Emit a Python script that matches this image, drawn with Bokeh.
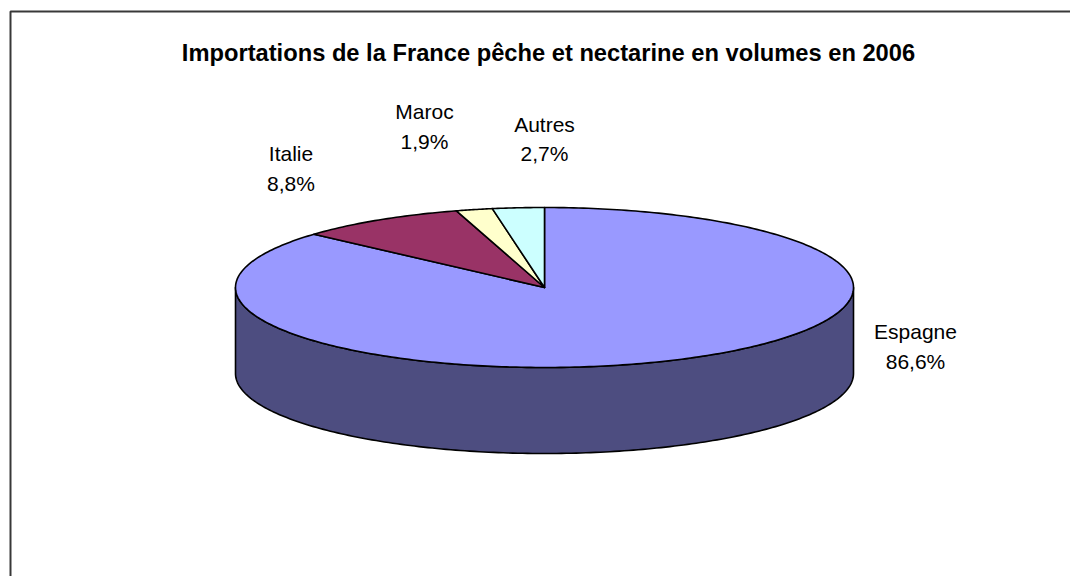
import numpy as np
from bokeh.plotting import figure
from bokeh.models import Range1d
from bokeh.embed import file_html
from bokeh.resources import INLINE
from bokeh.core.properties import value

# ---------------- data ----------------
countries = ["Espagne", "Italie", "Maroc", "Autres"]
shares = [86.6, 8.8, 1.9, 2.7]
top_colors = ["#9999FF", "#993366", "#FFFFCC", "#CCFFFF"]
side_colors = ["#4D4D80", "#4D1A33", "#808066", "#668080"]
title_text = "Importations de la France pêche et nectarine en volumes en 2006"

# ---------------- layout ----------------
W, H = 1070, 576
CX, CY, RX, RY, DEPTH = 544, 287, 309, 80, 86
label_anchor = {  # (center x, first-line baseline y) in canvas px
    "Espagne": (915, 331),
    "Italie": (290.5, 153),
    "Maroc": (424, 111),
    "Autres": (544, 123.5),
}
LINE_GAP = 29.5
FONT = value("Liberation Sans")

p = figure(width=W, height=H, x_range=Range1d(0, W), y_range=Range1d(H, 0),
           output_backend="svg", toolbar_location=None, min_border=0,
           x_axis_type=None, y_axis_type=None, background_fill_color="white",
           border_fill_color="white")
p.outline_line_color = None
p.grid.visible = False


def pt(t):
    return CX + RX * np.sin(t), CY - RY * np.cos(t)


cum = np.concatenate([[0.0], np.cumsum(shares)]) / sum(shares) * 2 * np.pi

# side walls (front half only: clock angles pi/2 .. 3pi/2)
side_xs, side_ys, side_cols = [], [], []
for i in range(len(shares)):
    a0 = max(cum[i], np.pi / 2)
    a1 = min(cum[i + 1], 3 * np.pi / 2)
    if a1 <= a0:
        continue
    t = np.linspace(a0, a1, 200)
    x, y = pt(t)
    xs = np.concatenate([x, x[::-1]])
    ys = np.concatenate([y, (y + DEPTH)[::-1]])
    side_xs.append(list(xs))
    side_ys.append(list(ys))
    side_cols.append(side_colors[i])
p.patches(xs=side_xs, ys=side_ys, fill_color=side_cols, line_color="black",
          line_width=1.6, line_join="round")

# top faces
top_xs, top_ys = [], []
for i in range(len(shares)):
    n = max(20, int(400 * shares[i] / 100))
    t = np.linspace(cum[i], cum[i + 1], n)
    x, y = pt(t)
    top_xs.append([CX] + list(x))
    top_ys.append([CY] + list(y))
p.patches(xs=top_xs, ys=top_ys, fill_color=top_colors, line_color="black",
          line_width=1.6, line_join="round")

# chart border (left and top edges visible in the window)
p.line(x=[10, 10, W + 5], y=[H + 5, 11, 11], line_color="#383838", line_width=2)

# title
p.text(x=[548], y=[52], text=[title_text], text_font=FONT, text_font_size="23.7px",
       text_font_style="bold", text_align="center", text_baseline="alphabetic",
       text_color="black")

# labels
lx, ly, lt = [], [], []
for c, s in zip(countries, shares):
    ax, ay = label_anchor[c]
    lx += [ax, ax]
    ly += [ay, ay + LINE_GAP]
    lt += [c, f"{s:.1f}".replace(".", ",") + "%"]
p.text(x=lx, y=ly, text=lt, text_font=FONT, text_font_size="21px",
       text_align="center", text_baseline="alphabetic", text_color="black")

open("out.html", "w").write(file_html(p, INLINE))
